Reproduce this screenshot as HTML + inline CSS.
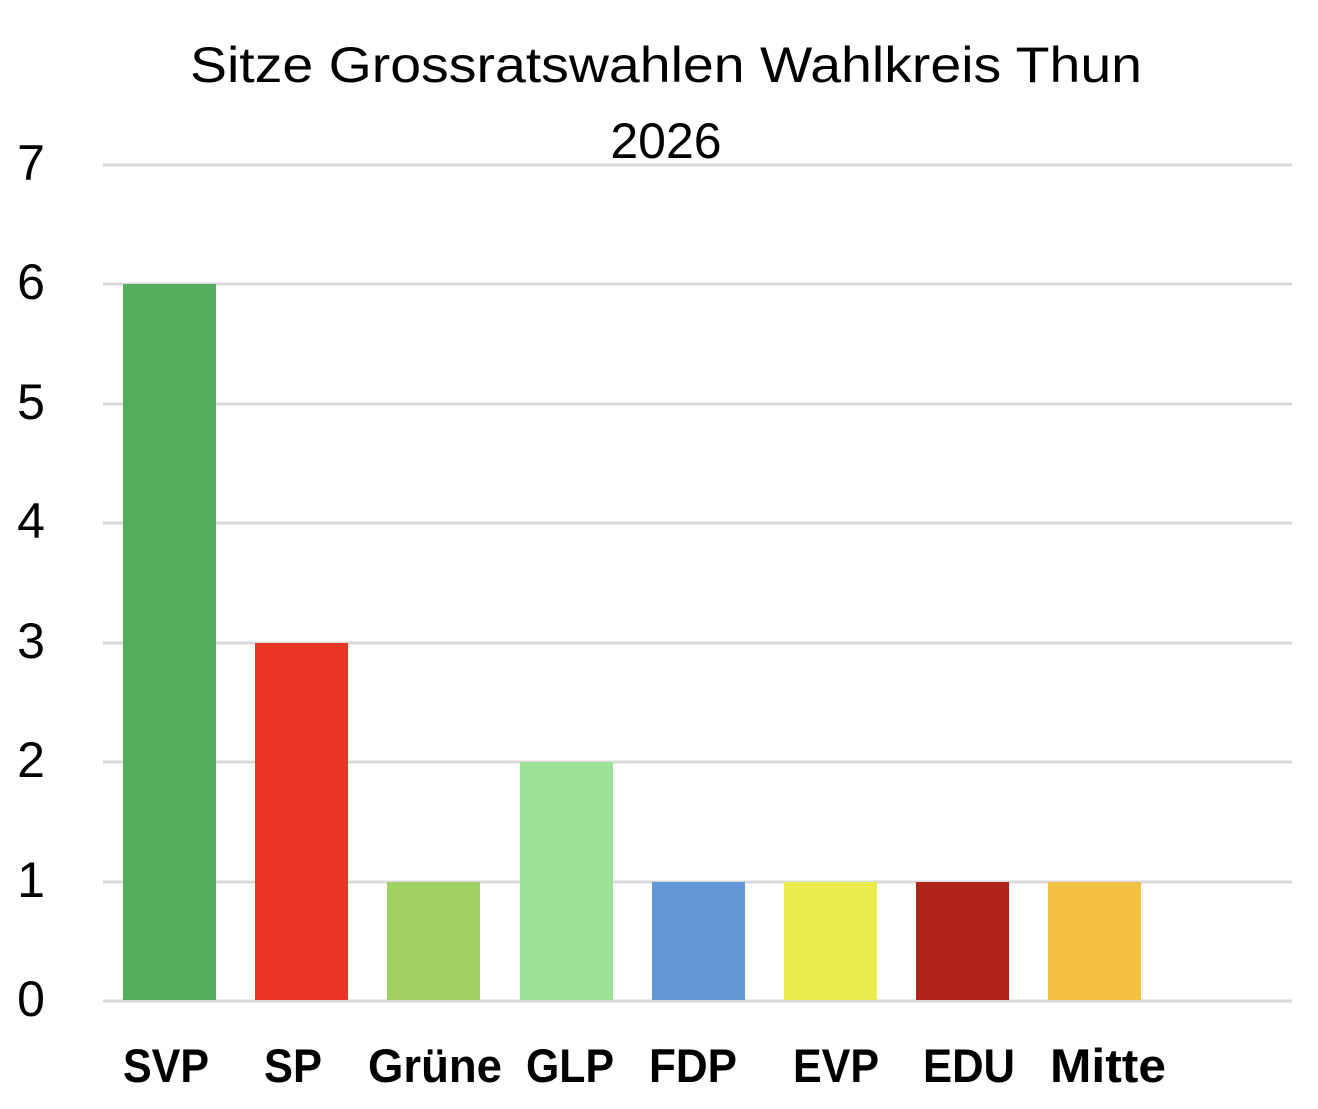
<!DOCTYPE html>
<html><head><meta charset="utf-8"><style>html,body{margin:0;padding:0;background:#fff}</style></head>
<body>
<svg width="1318" height="1104" xmlns="http://www.w3.org/2000/svg" font-family="Liberation Sans, sans-serif">
<g stroke="#d9d9d9" stroke-width="3">
<line x1="103" x2="1292" y1="165" y2="165"/>
<line x1="103" x2="1292" y1="284" y2="284"/>
<line x1="103" x2="1292" y1="404" y2="404"/>
<line x1="103" x2="1292" y1="523" y2="523"/>
<line x1="103" x2="1292" y1="643" y2="643"/>
<line x1="103" x2="1292" y1="762" y2="762"/>
<line x1="103" x2="1292" y1="882" y2="882"/>
<line x1="103" x2="1292" y1="1001" y2="1001"/>
</g>
<rect x="123" y="284" width="93" height="716" fill="#52ae5d"/>
<rect x="255" y="643" width="93" height="357" fill="#eb3524"/>
<rect x="387" y="882" width="93" height="118" fill="#a0cf62"/>
<rect x="520" y="762" width="93" height="238" fill="#9be197"/>
<rect x="652" y="882" width="93" height="118" fill="#6296d4"/>
<rect x="784" y="882" width="93" height="118" fill="#e9eb4f"/>
<rect x="916" y="882" width="93" height="118" fill="#ae2419"/>
<rect x="1048" y="882" width="93" height="118" fill="#f3c244"/>
<g font-size="50" fill="#000" text-anchor="middle">
<text x="31" y="180">7</text>
<text x="31" y="299">6</text>
<text x="31" y="419">5</text>
<text x="31" y="538">4</text>
<text x="31" y="658">3</text>
<text x="31" y="777">2</text>
<text x="31" y="897">1</text>
<text x="31" y="1016">0</text>
</g>
<g font-size="50" fill="#000" text-anchor="middle">
<text x="666" y="82" textLength="952" lengthAdjust="spacingAndGlyphs">Sitze Grossratswahlen Wahlkreis Thun</text>
<text x="666" y="158">2026</text>
</g>
<g font-size="47" font-weight="bold" fill="#000" text-anchor="middle">
<text x="166" y="1082" textLength="86" lengthAdjust="spacingAndGlyphs">SVP</text>
<text x="293" y="1082" textLength="58" lengthAdjust="spacingAndGlyphs">SP</text>
<text x="435" y="1082" textLength="134" lengthAdjust="spacingAndGlyphs">Grüne</text>
<text x="570" y="1082" textLength="88" lengthAdjust="spacingAndGlyphs">GLP</text>
<text x="693" y="1082" textLength="88" lengthAdjust="spacingAndGlyphs">FDP</text>
<text x="836" y="1082" textLength="86" lengthAdjust="spacingAndGlyphs">EVP</text>
<text x="969" y="1082" textLength="92" lengthAdjust="spacingAndGlyphs">EDU</text>
<text x="1108" y="1082" textLength="116" lengthAdjust="spacingAndGlyphs">Mitte</text>
</g>
</svg>
</body></html>
